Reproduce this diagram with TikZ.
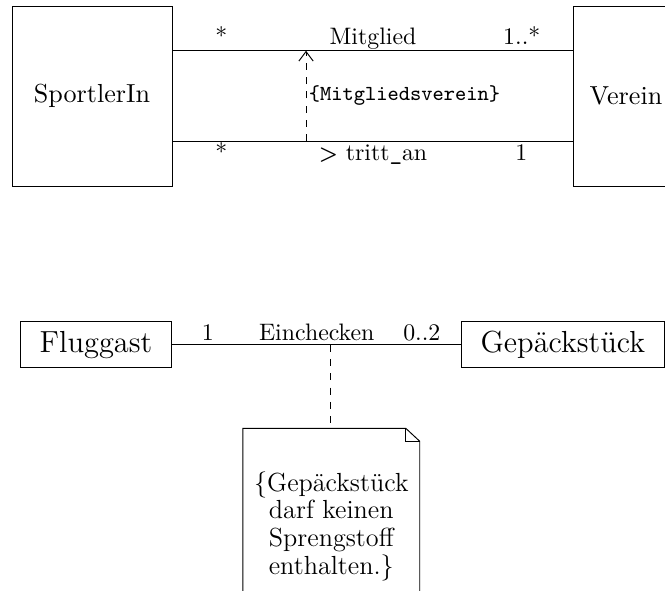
\documentclass[tikz,border=0pt]{standalone}
\usepackage{tikz}
\usetikzlibrary{arrows.meta,calc,positioning}

\begin{document}
\begin{tikzpicture}[x=0.42pt,y=-0.42pt,
  cls/.style={draw,inner sep=0pt,font=\fontsize{10.95}{13}\selectfont},
  bigcls/.style={draw,inner sep=0pt,font=\fontsize{12.8}{15}\selectfont},
  role/.style={anchor=base,font=\normalsize}]
  \useasboundingbox (0,0) rectangle (665,591);
  \clip (0,0) rectangle (665,591);
  \node[cls,minimum width=67.2pt,minimum height=75.6pt] (sp) at (92,96) {SportlerIn};
  \node[cls,minimum width=43.7pt,minimum height=75.6pt] (ve) at (626,96) {Verein};
  \draw ($(sp.north east)!.25!(sp.south east)$) -- coordinate[pos=.333] (mtop) ($(ve.north west)!.25!(ve.south west)$)
    node[role,pos=.122,yshift=2.5pt] {*} node[role,pos=.5,yshift=2.5pt] {Mitglied} node[role,pos=.871,yshift=2.5pt] {1..*};
  \draw ($(sp.north east)!.75!(sp.south east)$) -- coordinate[pos=.333] (mbot) ($(ve.north west)!.75!(ve.south west)$)
    node[role,pos=.122,yshift=-8pt] {*} node[role,pos=.5,yshift=-8pt] {{\sffamily\bfseries\small >} tritt{\ttfamily\_}an} node[role,pos=.870,yshift=-8pt] {1};
  \draw[dashed,-{Straight Barb[length=4pt,width=6pt]}] (mbot) -- (mtop)
    node[midway,right,inner xsep=1pt,font=\small\ttfamily] {\{Mitgliedsverein\}};
  \node[bigcls,minimum width=63.7pt,minimum height=19.3pt] (fg) at (96,344.7) {Fluggast};
  \node[bigcls,minimum width=85pt,minimum height=19.3pt] (gp) at (562.8,344.7) {Gepäckstück};
  \draw (fg) -- coordinate[pos=.547] (ek) (gp)
    node[role,pos=.123,yshift=1.9pt] {1} node[role,pos=.5,yshift=1.9pt] {Einchecken} node[role,pos=.864,yshift=1.9pt] {0..2};
  \node[font=\fontsize{11}{11.6}\selectfont,align=center,anchor=north,minimum width=73.9pt,inner ysep=18pt] (nt) at (331.3,428.3)
    {\{Gepäckstück\\darf keinen\\Sprengstoff\\enthalten.\}};
  \draw (nt.south west) -- (nt.north west) -- ($(nt.north east)+(-14,0)$) -- ($(nt.north east)+(0,13)$) -- (nt.south east);
  \draw ($(nt.north east)+(-14,0)$) |- ($(nt.north east)+(0,13)$);
  \draw[dashed] (ek) -- (ek |- nt.north);
\end{tikzpicture}
\end{document}
